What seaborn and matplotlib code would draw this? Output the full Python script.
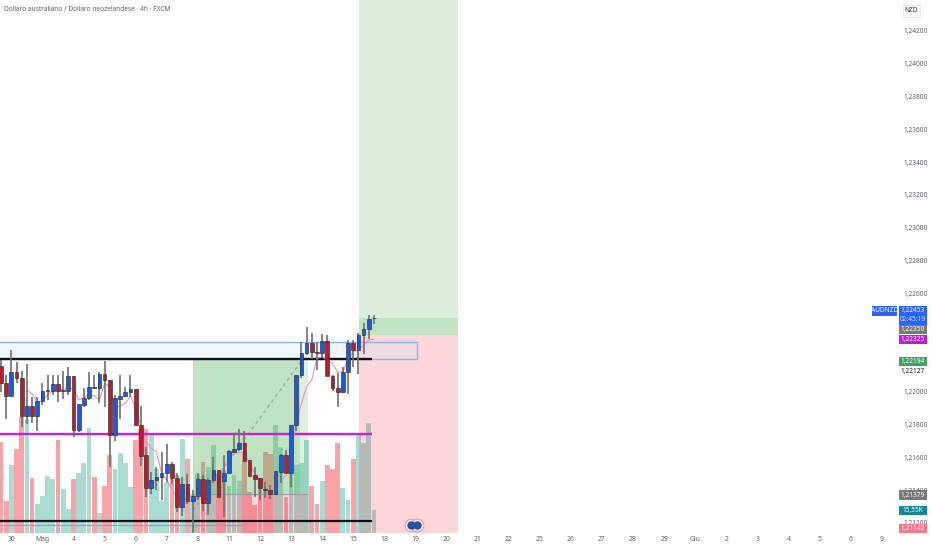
import matplotlib
matplotlib.use('Agg')
import matplotlib.pyplot as plt
import seaborn as sns
import numpy as np
import pandas as pd

# AUDNZD 4h candles, prices
opens = [1.22157,1.22056,1.21977,1.22119,1.22086,1.21853,1.21914,1.21853,1.21944,1.22005,1.22007,1.22048,1.22011,1.22007,1.22097,
         1.21767,1.21920,1.21964,1.22030,1.22025,1.22109,1.22072,1.21737,1.21958,1.21975,1.21997,1.22015,1.21798,1.21615,1.21416,
         1.21462,1.21483,1.21503,1.21558,1.21473,1.21298,1.21440,1.21336,1.21365,1.21466,1.21320,1.21462,1.21523,1.21458,1.21507,
         1.21635,1.21651,1.21690,1.21584,1.21493,1.21473,1.21408,1.21401,1.21375,1.21513,1.21615,1.21503,1.21798,1.22103,1.22239,
         1.22296,1.22245,1.22235,1.22310,1.22099,1.22021,1.21997,1.22123,1.22296,1.22255,1.22347,1.22381,1.22450]
closes = [1.22056,1.21977,1.22119,1.22082,1.21853,1.21914,1.21853,1.21944,1.22005,1.22011,1.22048,1.22007,1.22005,1.22097,1.21767,
          1.21924,1.21964,1.22032,1.22025,1.22107,1.22072,1.21737,1.21960,1.21975,1.21997,1.22015,1.21798,1.21611,1.21416,1.21462,
          1.21483,1.21503,1.21558,1.21473,1.21300,1.21440,1.21336,1.21365,1.21466,1.21320,1.21462,1.21523,1.21361,1.21507,1.21641,
          1.21651,1.21690,1.21580,1.21489,1.21468,1.21412,1.21401,1.21375,1.21515,1.21615,1.21503,1.21798,1.22103,1.22239,1.22296,
          1.22241,1.22235,1.22310,1.22099,1.22021,1.22001,1.22123,1.22296,1.22255,1.22347,1.22381,1.22444,1.22448]
highs = [1.22194,1.22103,1.22255,1.22184,1.22127,1.22168,1.21971,1.21971,1.22052,1.22103,1.22103,1.22103,1.22129,1.22153,1.22097,
         1.21924,1.22021,1.22123,1.22103,1.22123,1.22190,1.22072,1.21981,1.22103,1.22032,1.22103,1.22015,1.21914,1.21666,1.21509,
         1.21540,1.21635,1.21680,1.21574,1.21503,1.21483,1.21499,1.21401,1.21503,1.21493,1.21473,1.21601,1.21523,1.21615,1.21645,
         1.21743,1.21771,1.21763,1.21584,1.21544,1.21473,1.21452,1.21432,1.21515,1.21621,1.21645,1.21798,1.22103,1.22302,1.22393,
         1.22357,1.22306,1.22351,1.22347,1.22103,1.22113,1.22153,1.22316,1.22316,1.22361,1.22418,1.22469,1.22469]
lows = [1.22001,1.21832,1.21977,1.22052,1.21788,1.21804,1.21812,1.21763,1.21920,1.21950,1.21981,1.21940,1.21954,1.21981,1.21727,
        1.21757,1.21910,1.21950,1.22021,1.21930,1.21905,1.21544,1.21702,1.21834,1.21966,1.21966,1.21792,1.21550,1.21357,1.21377,
        1.21401,1.21340,1.21452,1.21438,1.21269,1.21243,1.21316,1.21141,1.21340,1.21273,1.21249,1.21442,1.21361,1.21235,1.21503,
        1.21625,1.21641,1.21580,1.21487,1.21361,1.21340,1.21351,1.21347,1.21371,1.21442,1.21503,1.21422,1.21763,1.22082,1.22225,
        1.22198,1.22133,1.22204,1.22099,1.22005,1.21910,1.21991,1.21987,1.22153,1.22107,1.22231,1.22322,1.22414]
volumes = [62.4,21.7,46.9,57.9,79.6,78.4,38.0,20.1,25.4,38.9,37.3,64.0,30.0,16.7,36.8,41.4,48.0,72.0,38.4,14.0,32.5,53.7,43.7,55.1,48.0,
           31.6,63.6,71.6,71.6,68.8,44.1,22.0,35.0,36.8,39.6,64.7,50.5,27.0,40.3,48.7,45.3,60.1,40.7,43.0,32.0,39.6,35.4,54.4,28.1,19.0,
           33.8,55.6,54.0,73.9,59.0,24.7,59.0,46.4,48.0,63.6,32.2,19.7,35.7,46.4,43.7,62.0,31.1,22.4,50.5,67.0,61.7,75.7,15.55]
vol_up = [0,0,1,0,0,1,0,1,1,1,1,0,1,1,0,1,1,1,0,1,0,0,1,1,1,1,0,0,0,1,1,1,1,0,0,1,0,1,1,0,1,1,0,0,1,1,1,0,0,0,0,0,0,1,1,0,1,1,1,1,0,0,1,0,0,0,1,1,0,1,1,1,1]
ma_start = 5
ma_values = [1.22011,1.21987,1.21940,1.21944,1.21981,1.22007,1.22011,1.22015,1.22021,1.22017,1.21950,1.21966,1.21981,1.21975,1.21950,
             1.22052,1.22032,1.21899,1.21914,1.21930,1.21975,1.21899,1.21792,1.21696,1.21655,1.21635,1.21503,1.21462,1.21401,1.21361,
             1.21361,1.21340,1.21330,1.21351,1.21371,1.21401,1.21442,1.21493,1.21544,1.21595,1.21625,1.21631,1.21625,1.21564,1.21503,
             1.21462,1.21422,1.21391,1.21391,1.21452,1.21493,1.21605,1.21818,1.21930,1.22032,1.22072,1.22204,1.22214,1.22194,1.22174,
             1.22119,1.22123,1.22194,1.22245,1.22255,1.22286,1.22316,1.22320]

day_labels = ['30','Mag','4','5','6','7','8','11','12','13','14','15','18','19','20','21','22','25','26','27','28','29','Giu','2','3','4','5','6','9']
price_ticks = [1.212,1.214,1.216,1.218,1.220,1.226,1.228,1.230,1.232,1.234,1.236,1.238,1.240,1.242]

# levels drawn on the chart
level_top = 1.22200
level_mid = 1.21743
level_low = 1.21214
box_top = 1.22304
box_low2 = 1.21190
left_tp = 1.22194
left_entry = 1.21379
right_entry = 1.22346
right_mid = 1.22450

BLUE, RED = '#2058d8', '#b2202f'

sns.set_theme(style='white')
plt.rcParams['font.family'] = ['Noto Sans', 'DejaVu Sans']

df = pd.DataFrame({'i': np.arange(len(opens)), 'open': opens, 'close': closes, 'high': highs, 'low': lows,
                   'vol': volumes, 'side': ['up' if v else 'down' for v in vol_up]})
df['top'] = df[['open', 'close']].max(axis=1)
df['bot'] = df[['open', 'close']].min(axis=1)
df['color'] = np.where(df['close'] >= df['open'], BLUE, RED)

W, H = 932, 550
fig = plt.figure(figsize=(W / 100, H / 100), dpi=100)
ax = fig.add_axes([0, 1 - 533 / H, 897 / W, 533 / H])
ax.set_facecolor('none')
axv = ax.twinx()
axv.set_zorder(0)
ax.set_zorder(1)

sns.barplot(data=df, x='i', y='vol', hue='side', native_scale=True, dodge=False, width=0.92, legend=False,
            palette={'up': '#a9dcd3', 'down': '#f9a3a8'}, saturation=1, linewidth=0, ax=axv)
axv.set_ylim(0, 365.6)
axv.axis('off')

# price scale of the chart
ax.set_xlim(-0.19, 172.97)
ax.set_ylim(1.242 - (533 - 31) / 16400, 1.242 + 31 / 16400)
ymin, ymax = ax.get_ylim()

# position zones
RISK, REWARD = '#f23645', '#4caf50'
ax.fill_between([69.1, 88.2], ymin, right_entry, color=RISK, alpha=0.2, lw=0, zorder=1)
ax.fill_between([69.1, 88.2], right_entry, right_mid, color=REWARD, alpha=0.35, lw=0, zorder=1)
ax.fill_between([69.1, 88.2], right_mid, ymax, color=REWARD, alpha=0.2, lw=0, zorder=1)
ax.fill_between([37.07, 57.7], left_entry, left_tp, color=REWARD, alpha=0.35, lw=0, zorder=1)
ax.fill_between([57.7, 59.27], left_entry, left_tp, color=REWARD, alpha=0.18, lw=0, zorder=1)
ax.fill_between([37.07, 59.27], ymin, left_entry, color=RISK, alpha=0.2, lw=0, zorder=1)
ax.hlines(left_entry, 37.07, 59.27, color='#9a9aa2', lw=0.9, zorder=2)

# boxes and horizontal levels
ax.fill_between([-0.19, 80.3], level_top, box_top, facecolor='#d6e8fb', alpha=0.35, lw=0, zorder=1)
ax.plot([-0.19, 80.3, 80.3, -0.19], [box_top, box_top, level_top, level_top], color='#8fb0e8', lw=1, zorder=2)
ax.plot([-0.19, 47.1, 47.1], [box_low2, box_low2, ymin], color='#8f9fd8', lw=0.9, zorder=2)
ax.plot([37.07, 58], [1.21279, 1.22188], color='#999999', lw=0.8, ls=(0, (3, 3)), zorder=2)
ax.hlines(level_top, -0.19, 71.6, color='#101018', lw=1.7, zorder=3)
ax.hlines(level_mid, -0.19, 71.6, color='#c522d6', lw=1.7, zorder=3)
ax.hlines(level_low, -0.19, 71.6, color='#101018', lw=1.6, zorder=3)

# moving average then candles
sns.lineplot(x=np.arange(ma_start, ma_start + len(ma_values)), y=ma_values, color='#f28cc0', lw=0.8, ax=ax, zorder=4)
ax.vlines(df['i'], df['low'], df['high'], color='#6f6f6f', lw=1.2, zorder=5)
ax.bar(df['i'], df['top'] - df['bot'], bottom=df['bot'], width=0.72, color=df['color'], edgecolor='#222222', lw=0.4, zorder=6)

# axes text
ax.set_xticks([2 + 6 * k for k in range(len(day_labels))])
ax.set_xticklabels(day_labels, fontsize=4.9, color='#5d606b')
ax.set_yticks(price_ticks)
ax.set_yticklabels([f'{p:.5f}'.replace('.', ',') for p in price_ticks], fontsize=4.7, color='#5d606b')
ax.yaxis.tick_right()
ax.tick_params(axis='x', length=0, pad=2.5)
ax.tick_params(axis='y', length=0, pad=4.3)
ax.set_xlabel('')
ax.set_ylabel('')
for s in ax.spines.values():
    s.set_visible(False)

fig.text(4 / W, 1 - 9.5 / H, 'Dollaro australiano / Dollaro neozelandese · 4h · FXCM', fontsize=4.75, color='#5a5e69', va='center')

# right hand price badges
def badge(top, bottom, txt, bg, fg='white', x0=899, x1=927, edge='none'):
    fig.add_artist(plt.Rectangle((x0 / W, 1 - bottom / H), (x1 - x0) / W, (bottom - top) / H, transform=fig.transFigure,
                                 facecolor=bg, edgecolor=edge, lw=0.6, zorder=5))
    if txt:
        fig.text((x0 + x1) / 2 / W, 1 - (top + bottom) / 2 / H, txt, fontsize=4.7, color=fg, ha='center', va='center', zorder=6)

badge(5, 17, 'NZD', 'white', '#333333', 903, 920, '#e0e3eb')
badge(306, 316, 'AUDNZD', '#2962ff', 'white', 872, 897)
badge(306, 324.5, '', '#2962ff')
fig.text(913 / W, 1 - 310.5 / H, '1,22453', fontsize=4.7, color='white', ha='center', va='center', zorder=7)
fig.text(913 / W, 1 - 319.5 / H, '02:45:19', fontsize=4.7, color='#d7e2ff', ha='center', va='center', zorder=7)
badge(325, 334, '1,22350', '#787878')
badge(335, 344, '1,22325', '#c51ad6')
badge(357, 366, '1,22194', '#3aa566')
badge(366.5, 376, '1,22127', 'white', '#131722')
badge(490, 500, '1,21379', '#787878')
badge(506, 515, '15,55K', '#14869c')
badge(524, 533, '1,21142', '#f7788a')

# small round marker near the bottom of the chart
for xi, yi in [(79.1, 1.21187), (80.4, 1.21187)]:
    ax.plot([xi], [yi], 'o', ms=9.2, mfc='#fbe3e6', mec='#f08d9c', mew=0.7, zorder=7)
    ax.plot([xi], [yi], 'o', ms=6, mfc='#26519e', mec='none', zorder=8)

fig.savefig('out.png', dpi=100)
